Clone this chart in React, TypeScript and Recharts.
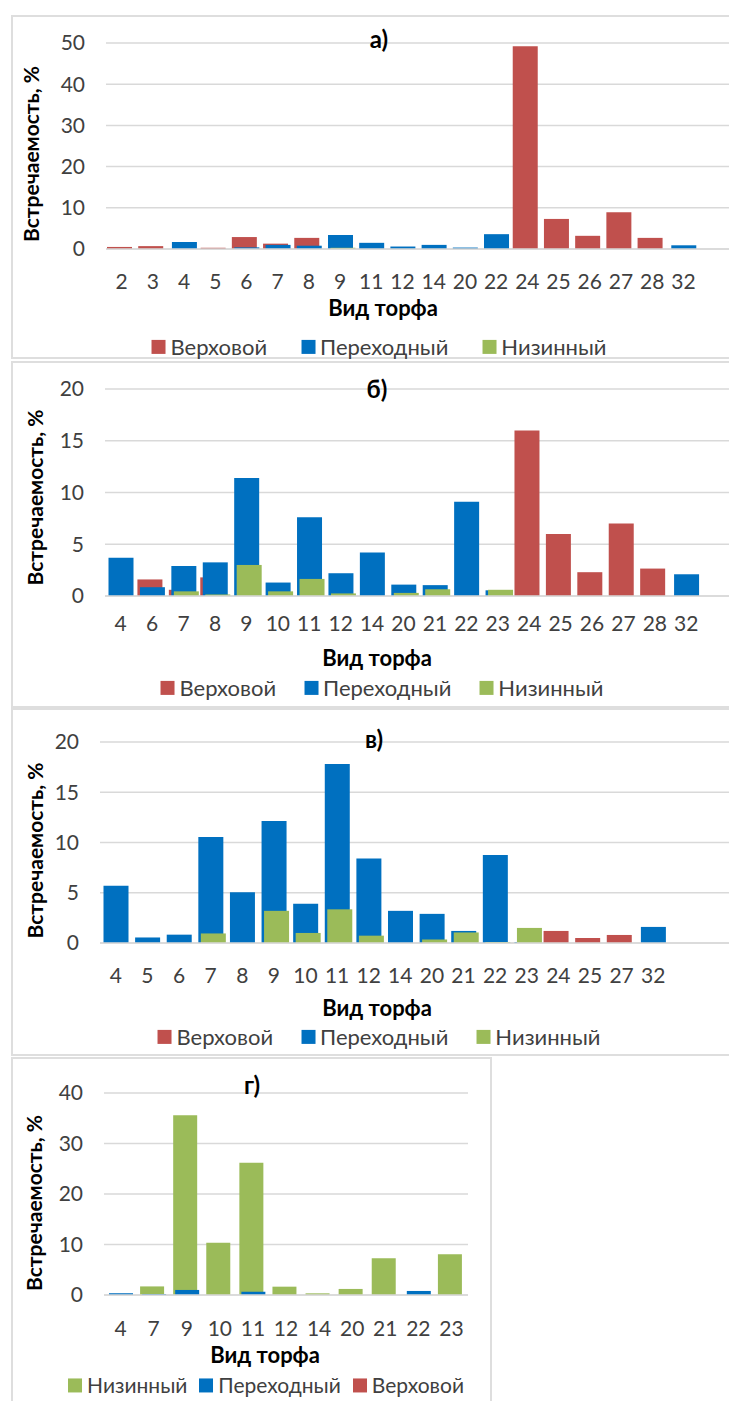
import { BarChart, Bar, XAxis, YAxis, CartesianGrid } from 'recharts';

// виды торфа и встречаемость, % (панель а)
const TYPES_A = ['2', '3', '4', '5', '6', '7', '8', '9', '11', '12', '14', '20', '22', '24', '25', '26', '27', '28', '32'];
const VERKH_A = [0.5, 0.7, 0, 0.3, 2.9, 1.3, 2.7, 0, 0, 0, 0, 0, 0, 49.2, 7.3, 3.2, 8.9, 2.7, 0];
const PEREKH_A = [0, 0, 1.7, 0, 0.4, 1.0, 0.8, 3.4, 1.5, 0.6, 1.0, 0.35, 3.6, 0, 0, 0, 0, 0, 0.9];
const NIZ_A = [0, 0, 0, 0, 0, 0, 0, 0.3, 0, 0, 0, 0, 0, 0, 0, 0, 0, 0, 0];

// панель б
const TYPES_B = ['4', '6', '7', '8', '9', '10', '11', '12', '14', '20', '21', '22', '23', '24', '25', '26', '27', '28', '32'];
const VERKH_B = [0, 1.6, 0.6, 1.8, 0, 0, 0, 0, 0, 0, 0, 0, 0, 16.0, 6.0, 2.3, 7.0, 2.65, 0];
const PEREKH_B = [3.7, 0.85, 2.9, 3.25, 11.4, 1.3, 7.6, 2.2, 4.2, 1.1, 1.05, 9.1, 0.55, 0, 0, 0, 0, 0, 2.1];
const NIZ_B = [0, 0, 0.45, 0.15, 3.0, 0.45, 1.65, 0.25, 0, 0.3, 0.65, 0, 0.6, 0, 0, 0, 0, 0, 0];

// панель в
const TYPES_C = ['4', '5', '6', '7', '8', '9', '10', '11', '12', '14', '20', '21', '22', '23', '24', '25', '27', '32'];
const VERKH_C = [0, 0, 0, 0, 0, 0, 0, 0, 0, 0, 0, 0, 0, 0, 1.2, 0.5, 0.8, 0];
const PEREKH_C = [5.7, 0.55, 0.83, 10.55, 5.05, 12.15, 3.9, 17.8, 8.4, 3.2, 2.9, 1.2, 8.75, 0.1, 0, 0, 0, 1.6];
const NIZ_C = [0, 0, 0, 0.95, 0, 3.2, 1.0, 3.35, 0.73, 0, 0.35, 1.05, 0.1, 1.5, 0, 0, 0, 0];

// панель г
const TYPES_D = ['4', '7', '9', '10', '11', '12', '14', '20', '21', '22', '23'];
const NIZ_D = [0, 1.7, 35.6, 10.35, 26.2, 1.65, 0.33, 1.2, 7.3, 0, 8.05];
const PEREKH_D = [0.35, 0.2, 1.0, 0, 0.65, 0, 0, 0, 0, 0.8, 0];
const VERKH_D = [0, 0, 0, 0, 0, 0, 0, 0, 0, 0, 0];

const TICKS_50 = [0, 10, 20, 30, 40, 50];
const TICKS_20 = [0, 5, 10, 15, 20];
const TICKS_40 = [0, 10, 20, 30, 40];

const RED = '#C0504D';
const BLUE = '#0070C0';
const GREEN = '#9BBB59';
const GRID = '#D9D9D9';
const TXT = '#404040';
const FONT = "Lato, 'Noto Sans', sans-serif";

const build = (types: string[], v: number[], p: number[], n: number[]) =>
  types.map((t, i) => ({ type: t, verkh: v[i], perekh: p[i], niz: n[i] }));

const YTitle = ({ viewBox, dx, dy }: any) => {
  const cx = viewBox.x + dx;
  const cy = viewBox.y + viewBox.height / 2 + dy;
  return (
    <text x={cx} y={cy} transform={`rotate(-90 ${cx} ${cy})`} textAnchor="middle" dominantBaseline="central"
      style={{ fontFamily: FONT, fontSize: 21, fontWeight: 700, fill: '#000' }}>
      Встречаемость, %
    </text>
  );
};

type PanelProps = {
  data: any[];
  order: string[];
  top: number; // page y of chart svg
  width: number;
  plotTop: number;
  plotBottom: number;
  plotLeft: number;
  padRight: number;
  max: number;
  ticks: number[];
  tickGap: number;
  barSize: number;
  barGap: number;
  labelX: number;
  labelDy: number;
};

const SERIES: Record<string, { key: string; color: string }> = {
  verkh: { key: 'verkh', color: RED },
  perekh: { key: 'perekh', color: BLUE },
  niz: { key: 'niz', color: GREEN },
};

function Panel(p: PanelProps) {
  const height = p.plotBottom + 45 - p.top;
  return (
    <div style={{ position: 'absolute', left: 0, top: p.top }}>
      <BarChart width={p.width} height={height} data={p.data} barSize={p.barSize} barGap={p.barGap}
        margin={{ top: p.plotTop - p.top, right: 0, bottom: 0, left: 0 }}>
        <CartesianGrid vertical={false} stroke={GRID} strokeWidth={1.5} />
        <XAxis dataKey="type" interval={0} height={height - (p.plotBottom - p.top)} padding={{ left: 0, right: p.padRight }}
          axisLine={{ stroke: GRID, strokeWidth: 1.5 }} tickLine={false} tickSize={0} tickMargin={p.tickGap}
          tick={{ fill: TXT, fontSize: 21, fontFamily: FONT }} />
        <YAxis type="number" domain={[0, p.max]} ticks={p.ticks} width={p.plotLeft} axisLine={false} tickLine={false}
          tickSize={0} tickMargin={21} tick={{ fill: TXT, fontSize: 21, fontFamily: FONT }}
          label={{ content: (lp: any) => <YTitle {...lp} dx={p.labelX} dy={p.labelDy} /> }} />
        {p.order.map(s => (
          <Bar key={s} dataKey={SERIES[s].key} fill={SERIES[s].color} isAnimationActive={false} />
        ))}
      </BarChart>
    </div>
  );
}

const Text = ({ x, y, children, size = 22 }: any) => (
  <div style={{ position: 'absolute', left: x, top: y, transform: 'translate(-50%, -50%)', fontFamily: FONT,
    fontSize: size, fontWeight: 700, color: '#000', whiteSpace: 'nowrap', lineHeight: 1 }}>
    {children}
  </div>
);

const LegendRow = ({ x, y, gap, items, size = 22 }: any) => (
  <div style={{ position: 'absolute', left: x, top: y, transform: 'translate(-50%, -50%)', display: 'flex',
    alignItems: 'center', gap, whiteSpace: 'nowrap' }}>
    {items.map((it: any) => (
      <div key={it.label} style={{ display: 'flex', alignItems: 'center', gap: 5 }}>
        <div style={{ width: 14, height: 14, background: it.color }} />
        <span style={{ fontFamily: FONT, fontSize: size, color: TXT, lineHeight: 1.1 }}>{it.label}</span>
      </div>
    ))}
  </div>
);

const L_STD = [
  { label: 'Верховой', color: RED },
  { label: 'Переходный', color: BLUE },
  { label: 'Низинный', color: GREEN },
];
const L_REV = [
  { label: 'Низинный', color: GREEN },
  { label: 'Переходный', color: BLUE },
  { label: 'Верховой', color: RED },
];

const border = (left: number, top: number, width: number, height: number) => (
  <div style={{ position: 'absolute', left, top, width, height, border: '2px solid #DEDEDE', boxSizing: 'border-box' }} />
);

export default function App() {
  const std = ['verkh', 'perekh', 'niz'];
  return (
    <div style={{ position: 'absolute', left: 0, top: 0, width: 729, height: 1401, overflow: 'hidden', background: '#fff' }}>
      {border(11, 15, 740, 344)}
      {border(11, 361, 740, 347)}
      {border(11, 708, 740, 348)}
      {border(11, 1057, 481, 360)}

      <Panel data={build(TYPES_A, VERKH_A, PEREKH_A, NIZ_A)} order={std} top={20} width={729}
        plotTop={43} plotBottom={249} plotLeft={106} padRight={30} max={50} ticks={TICKS_50} tickGap={25}
        barSize={25} barGap={-22.5} labelX={30} labelDy={8} />
      <Text x={379} y={39} size={24}>а)</Text>
      <Text x={383} y={308}>Вид торфа</Text>
      <LegendRow x={379} y={347} gap={34} items={L_STD} />

      <Panel data={build(TYPES_B, VERKH_B, PEREKH_B, NIZ_B)} order={std} top={366} width={729}
        plotTop={389} plotBottom={596} plotLeft={105} padRight={27} max={20} ticks={TICKS_20} tickGap={20}
        barSize={25} barGap={-22.5} labelX={34} labelDy={5} />
      <Text x={377} y={389} size={24}>б)</Text>
      <Text x={377} y={658}>Вид торфа</Text>
      <LegendRow x={382} y={688} gap={28} items={L_STD} />

      <Panel data={build(TYPES_C, VERKH_C, PEREKH_C, NIZ_C)} order={std} top={714} width={729}
        plotTop={742} plotBottom={943} plotLeft={100} padRight={60} max={20} ticks={TICKS_20} tickGap={25}
        barSize={25} barGap={-22.5} labelX={34} labelDy={8} />
      <Text x={374} y={739} size={24}>в)</Text>
      <Text x={377} y={1008}>Вид торфа</Text>
      <LegendRow x={379} y={1037} gap={28} items={L_STD} />

      <Panel data={build(TYPES_D, VERKH_D, PEREKH_D, NIZ_D)} order={['niz', 'perekh', 'verkh']} top={1070} width={468}
        plotTop={1093} plotBottom={1295} plotLeft={104} padRight={0} max={40} ticks={TICKS_40} tickGap={26}
        barSize={24} barGap={-22} labelX={33} labelDy={9} />
      <Text x={252} y={1085} size={24}>г)</Text>
      <Text x={265} y={1355}>Вид торфа</Text>
      <LegendRow x={266} y={1385} gap={12} items={L_REV} size={21} />
    </div>
  );
}
